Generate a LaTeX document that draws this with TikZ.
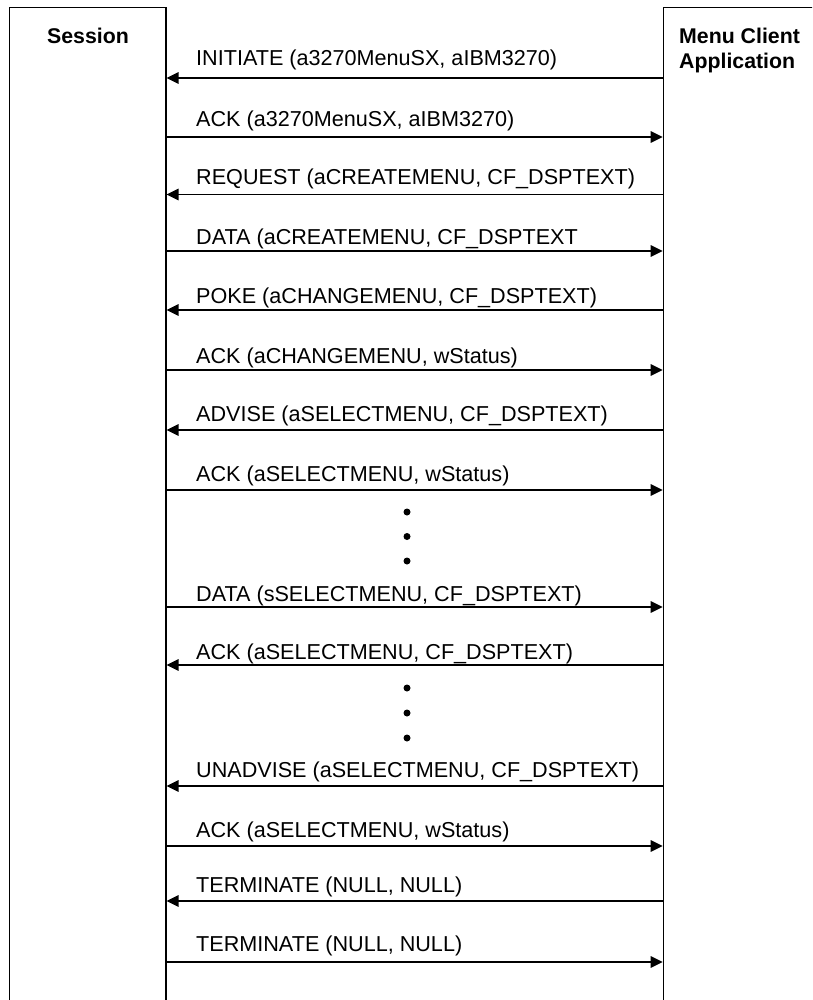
\documentclass[tikz,border=0pt]{standalone}
\usepackage{fontspec}
\setmainfont{Liberation Sans}
\usetikzlibrary{arrows.meta}
\begin{document}
\begin{tikzpicture}[x=1pt,y=-1pt,
  lane/.style={draw, line width=1.2pt, rectangle, inner sep=0pt, anchor=north west},
  msg/.style={line width=1.2pt, -{Triangle[length=12pt,width=11.5pt]}},
  lbl/.style={anchor=base west, inner sep=0pt, font=\fontsize{21.6}{25}\selectfont},
  ttl/.style={inner sep=0pt, font=\fontsize{21.3}{25}\selectfont\bfseries},
  dotmark/.style={circle, fill, inner sep=0pt, minimum size=7pt}]
\useasboundingbox (0,0) rectangle (812,1000);
\clip (0,0) rectangle (812,1000);
\node[lane, minimum width=156.6pt, minimum height=1100pt] (session) at (8.7,7) {};
\node[lane, minimum width=300pt, minimum height=1100pt] (client) at (662.7,7) {};
\node[ttl, anchor=base] (stitle) at (88,44) {Session};
\node[ttl, anchor=base west] (ctitle) at (679,43.5) {Menu Client};
\node[ttl, anchor=base west] (ctitle2) at (679,68.5) {Application};
% message rows
\coordinate (m1) at (0,78);
\coordinate (m2) at (0,137);
\coordinate (m3) at (0,194.5);
\coordinate (m4) at (0,251);
\coordinate (m5) at (0,310);
\coordinate (m6) at (0,370);
\coordinate (m7) at (0,430);
\coordinate (m8) at (0,490);
\coordinate (m9) at (0,607);
\coordinate (m10) at (0,665);
\coordinate (m11) at (0,786);
\coordinate (m12) at (0,846);
\coordinate (m13) at (0,901);
\coordinate (m14) at (0,962);
\node[lbl] (t1) at (196,66) {INITIATE (a3270MenuSX, aIBM3270)};
\node[lbl] (t2) at (196,126.7) {ACK (a3270MenuSX, aIBM3270)};
\node[lbl] (t3) at (196,185) {REQUEST (aCREATEMENU, CF\_DSPTEXT)};
\node[lbl] (t4) at (196,244) {DATA (aCREATEMENU, CF\_DSPTEXT};
\node[lbl] (t5) at (196,303.3) {POKE (aCHANGEMENU, CF\_DSPTEXT)};
\node[lbl] (t6) at (196,363.3) {ACK (aCHANGEMENU, wStatus)};
\node[lbl] (t7) at (196,421.7) {ADVISE (aSELECTMENU, CF\_DSPTEXT)};
\node[lbl] (t8) at (196,481.7) {ACK (aSELECTMENU, wStatus)};
\node[lbl] (t9) at (196,601) {DATA (sSELECTMENU, CF\_DSPTEXT)};
\node[lbl] (t10) at (196,659.3) {ACK (aSELECTMENU, CF\_DSPTEXT)};
\node[lbl] (t11) at (196,777.3) {UNADVISE (aSELECTMENU, CF\_DSPTEXT)};
\node[lbl] (t12) at (196,837) {ACK (aSELECTMENU, wStatus)};
\node[lbl] (t13) at (196,892) {TERMINATE (NULL, NULL)};
\node[lbl] (t14) at (196,951.7) {TERMINATE (NULL, NULL)};
\draw[msg] (client.west |- m1) -- (session.east |- m1);
\draw[msg] (session.east |- m2) -- (client.west |- m2);
\draw[msg] (client.west |- m3) -- (session.east |- m3);
\draw[msg] (session.east |- m4) -- (client.west |- m4);
\draw[msg] (client.west |- m5) -- (session.east |- m5);
\draw[msg] (session.east |- m6) -- (client.west |- m6);
\draw[msg] (client.west |- m7) -- (session.east |- m7);
\draw[msg] (session.east |- m8) -- (client.west |- m8);
\draw[msg] (session.east |- m9) -- (client.west |- m9);
\draw[msg] (client.west |- m10) -- (session.east |- m10);
\draw[msg] (client.west |- m11) -- (session.east |- m11);
\draw[msg] (session.east |- m12) -- (client.west |- m12);
\draw[msg] (client.west |- m13) -- (session.east |- m13);
\draw[msg] (session.east |- m14) -- (client.west |- m14);
% continuation dots
\node[dotmark] (d1) at (407,512) {};
\node[dotmark] (d2) at (407,536.5) {};
\node[dotmark] (d3) at (407,561) {};
\node[dotmark] (d4) at (407,688) {};
\node[dotmark] (d5) at (407,713) {};
\node[dotmark] (d6) at (407,738) {};
\end{tikzpicture}
\end{document}
